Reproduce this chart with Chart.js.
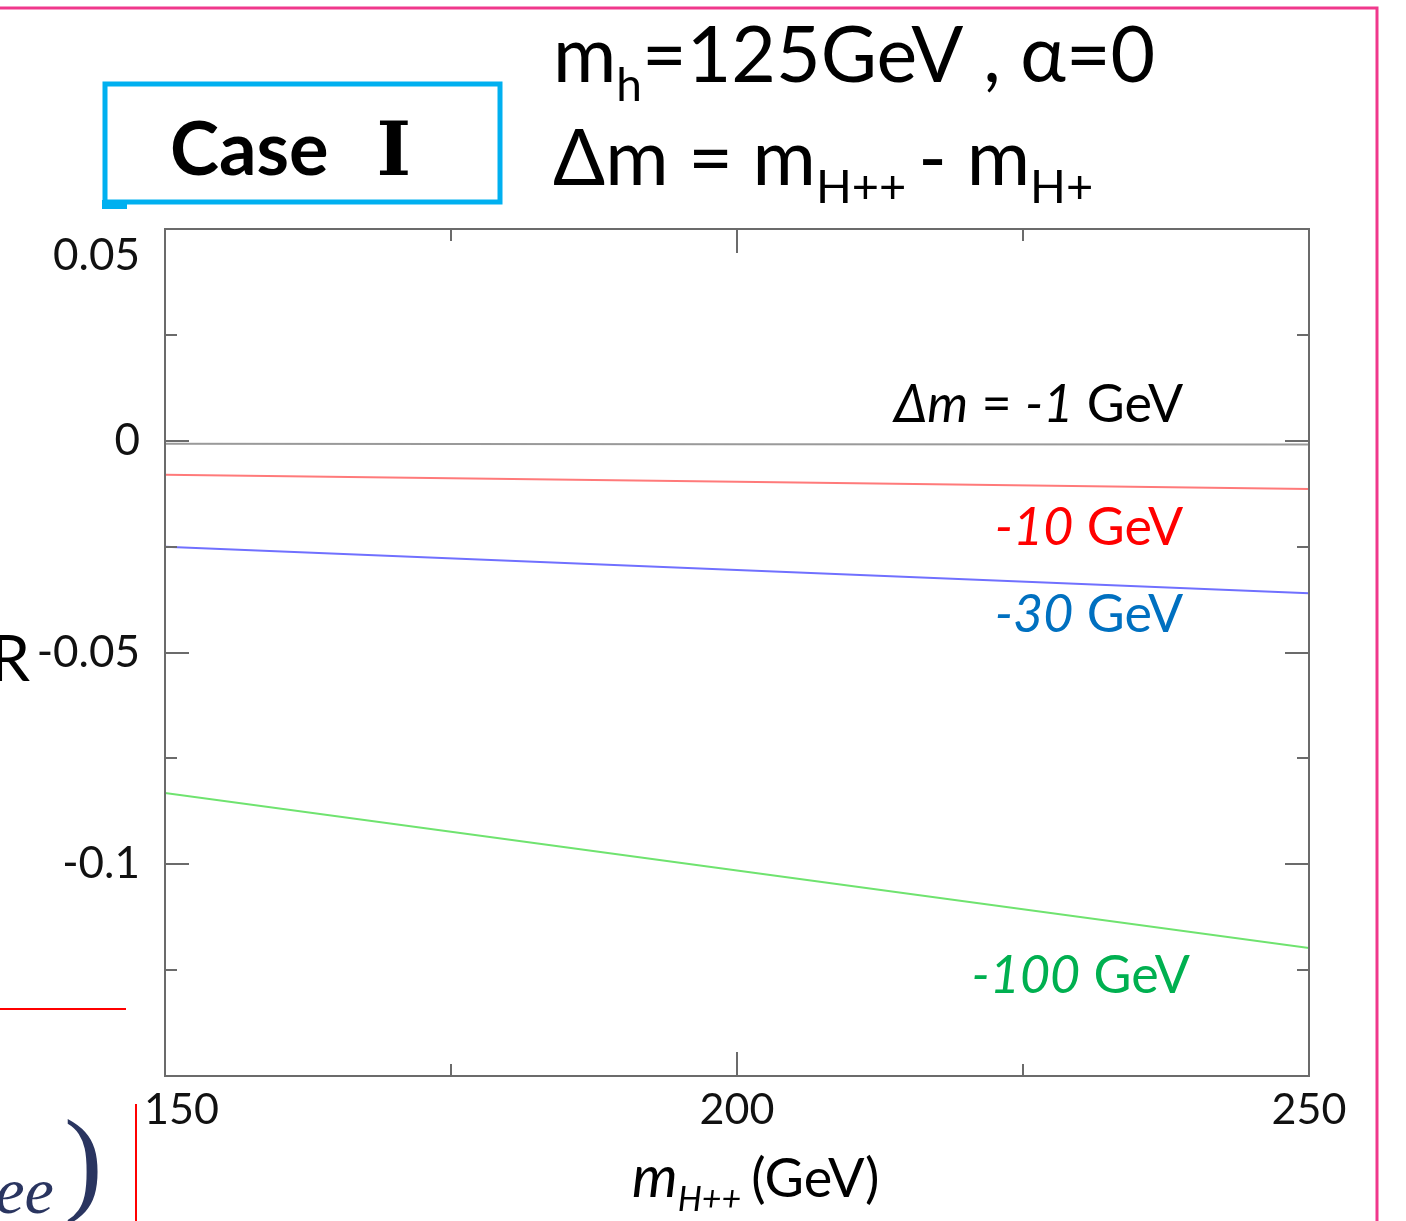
<!DOCTYPE html>
<html>
<head>
<meta charset="utf-8">
<script src="https://cdn.jsdelivr.net/npm/chart.js@4.4.0/dist/chart.umd.min.js"></script>
<style>
  html, body { margin: 0; padding: 0; background: #fff; }
  #wrap { width: 1406px; height: 1221px; }
</style>
</head>
<body>
<div id="wrap"><canvas id="c" width="1406" height="1221"></canvas></div>
<script>
// m_H++ (GeV)
const massH = [150, 200, 250];
// R for each mass splitting
const rDm1 = [-0.0007, -0.0008, -0.0009];
const rDm10 = [-0.0080, -0.0097, -0.0114];
const rDm30 = [-0.0250, -0.0305, -0.0360];
const rDm100 = [-0.0832, -0.1015, -0.1198];

// tick labels
const xTickVals = [150, 200, 250];
const xTickLabels = ['150', '200', '250'];
const yTickVals = [0.05, 0, -0.05, -0.1];
const yTickLabels = ['0.05', '0', '-0.05', '-0.1'];

const FONT = 'Lato, "Open Sans", sans-serif';

// draw a run of text pieces (each with its own font / vertical shift)
function drawRuns(ctx, runs, x, y, align) {
  let total = 0;
  runs.forEach(r => { ctx.font = r.font; r.w = ctx.measureText(r.t).width; total += r.w + (r.gap || 0); });
  let cx = align === 'right' ? x - total : x;
  ctx.textAlign = 'left';
  ctx.textBaseline = 'alphabetic';
  runs.forEach(r => {
    ctx.font = r.font;
    ctx.fillStyle = r.color || '#000';
    ctx.fillText(r.t, cx, y + (r.dy || 0));
    cx += r.w + (r.gap || 0);
  });
}

// curve labels, anchored at data coordinates (right edge, baseline)
const curveLabels = [
  { x: 239.0, y: 0.0044, color: '#000', runs: [['Δm', 'i'], [' = ', 'n'], ['-1', 'i'], [' GeV', 'n']] },
  { x: 239.0, y: -0.0246, color: '#ff0000', runs: [['-10', 'i'], [' GeV', 'n']] },
  { x: 239.0, y: -0.0452, color: '#0070c0', runs: [['-30', 'i'], [' GeV', 'n']] },
  { x: 239.6, y: -0.1304, color: '#00b050', runs: [['-100', 'i'], [' GeV', 'n']] },
];

const overlay = {
  id: 'overlay',
  afterDatasetsDraw(chart) {
    const { ctx, chartArea: a, scales: { x, y } } = chart;
    ctx.save();
    ctx.strokeStyle = '#6b6b6b';
    ctx.lineWidth = 2;
    ctx.strokeRect(a.left, a.top, a.right - a.left, a.bottom - a.top);

    // inward ticks on all four sides
    ctx.beginPath();
    for (let v = 150; v <= 250; v += 25) {
      const px = Math.round(x.getPixelForValue(v));
      const len = (v % 50 === 0) ? 24 : 12;
      ctx.moveTo(px, a.bottom); ctx.lineTo(px, a.bottom - len);
      ctx.moveTo(px, a.top); ctx.lineTo(px, a.top + len);
    }
    for (let i = 0; i <= 8; i++) {
      const v = -0.15 + i * 0.025;
      const py = Math.round(y.getPixelForValue(v));
      const len = (i % 2 === 0) ? 24 : 12;
      ctx.moveTo(a.left, py); ctx.lineTo(a.left + len, py);
      ctx.moveTo(a.right, py); ctx.lineTo(a.right - len, py);
    }
    ctx.stroke();

    // curve labels
    curveLabels.forEach(l => {
      const runs = l.runs.map(([t, s]) => ({ t, color: l.color, font: (s === 'i' ? 'italic ' : '') + '52px ' + FONT }));
      drawRuns(ctx, runs, x.getPixelForValue(l.x), y.getPixelForValue(l.y), 'right');
    });
    ctx.restore();
  },
  afterDraw(chart) {
    const { ctx } = chart;
    ctx.save();
    // page frame
    ctx.strokeStyle = '#f0388c';
    ctx.lineWidth = 3;
    ctx.beginPath();
    ctx.moveTo(0, 8); ctx.lineTo(1377, 8); ctx.lineTo(1377, 1221);
    ctx.stroke();

    // Case I box
    ctx.strokeStyle = '#00b0f0';
    ctx.lineWidth = 5;
    ctx.strokeRect(105, 84, 395, 118);
    ctx.fillStyle = '#00b0f0';
    ctx.fillRect(102, 200, 25, 9);
    drawRuns(ctx, [
      { t: 'Case', font: 'bold 74px ' + FONT, gap: 48 },
      { t: 'I', font: 'bold 74px "DejaVu Serif", serif' },
    ], 170, 175, 'left');

    // header
    drawRuns(ctx, [
      { t: 'm', font: '77px ' + FONT },
      { t: 'h', font: '46px ' + FONT, dy: 19 },
      { t: '=125GeV , α=0', font: '77px ' + FONT },
    ], 553, 82, 'left');
    drawRuns(ctx, [
      { t: 'Δm = m', font: '77px ' + FONT },
      { t: 'H++', font: '47px ' + FONT, dy: 18, gap: 12 },
      { t: '- m', font: '77px ' + FONT },
      { t: 'H+', font: '47px ' + FONT, dy: 18 },
    ], 553, 185, 'left');

    // axis titles
    drawRuns(ctx, [
      { t: 'm', font: 'italic 58px ' + FONT },
      { t: 'H++', font: 'italic 34px ' + FONT, dy: 14, gap: 10 },
      { t: '(GeV)', font: '54px ' + FONT },
    ], 632, 1197, 'left');
    drawRuns(ctx, [{ t: 'R', font: '64px ' + FONT }], -10, 681, 'left');

    // bits of the neighbouring slide
    ctx.strokeStyle = '#ff0000';
    ctx.lineWidth = 2;
    ctx.beginPath();
    ctx.moveTo(0, 1009); ctx.lineTo(126, 1009);
    ctx.moveTo(136, 1104); ctx.lineTo(136, 1221);
    ctx.stroke();
    drawRuns(ctx, [{ t: 'ree', font: 'italic 66px "Liberation Serif", serif', color: '#2a3560' }], -28, 1213, 'left');
    drawRuns(ctx, [{ t: ')', font: '116px "Liberation Serif", serif', color: '#2a3560' }], 64, 1200, 'left');
    ctx.restore();
  }
};

const line = (data, color) => ({
  data: massH.map((m, i) => ({ x: m, y: data[i] })),
  borderColor: color,
  borderWidth: 2,
  pointRadius: 0,
  tension: 0,
  fill: false,
});

new Chart(document.getElementById('c'), {
  type: 'line',
  data: {
    datasets: [
      line(rDm1, '#9a9a9a'),
      line(rDm10, '#ff7a7a'),
      line(rDm30, '#7070ff'),
      line(rDm100, '#6fe36f'),
    ],
  },
  options: {
    responsive: false,
    animation: false,
    layout: { padding: { top: 229, right: 97, left: 0, bottom: 0 } },
    plugins: { legend: { display: false }, tooltip: { enabled: false } },
    scales: {
      x: {
        type: 'linear',
        min: 150, max: 250,
        afterFit: s => { s.height = 145; },
        afterBuildTicks: s => { s.ticks = xTickVals.map(v => ({ value: v })); },
        grid: { display: false },
        border: { display: false },
        ticks: {
          padding: 0,
          color: '#111',
          font: { family: FONT, size: 43 },
          maxRotation: 0,
          // first label sits a little right of its tick in the original
          callback: (v, i) => (i === 0 ? '   ' : '') + (xTickLabels[xTickVals.indexOf(v)] ?? ''),
        },
      },
      y: {
        type: 'linear',
        min: -0.15, max: 0.05,
        afterFit: s => { s.width = 165; },
        afterBuildTicks: s => { s.ticks = yTickVals.map(v => ({ value: v })); },
        grid: { display: false },
        border: { display: false },
        ticks: {
          padding: 17,
          color: '#111',
          font: { family: FONT, size: 44 },
          callback: v => {
            const i = yTickVals.findIndex(t => Math.abs(t - v) < 1e-9);
            if (i < 0) return '';
            // top label hangs below its tick in the original
            return i === 0 ? ['', yTickLabels[i]] : yTickLabels[i];
          },
        },
      },
    },
  },
  plugins: [overlay],
});
</script>
</body>
</html>
